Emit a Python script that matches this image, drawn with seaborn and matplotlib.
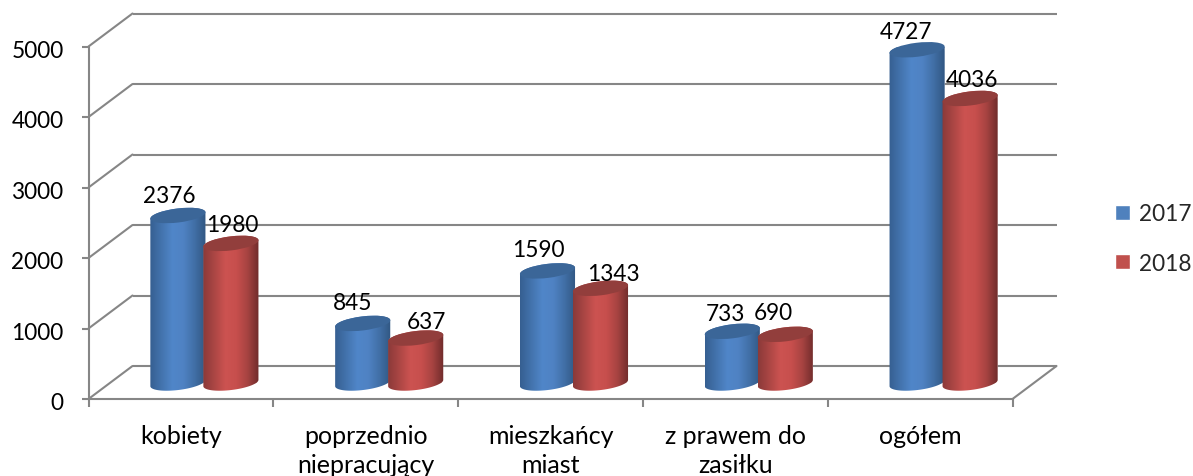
import numpy as np
import pandas as pd
import matplotlib
matplotlib.use("Agg")
import matplotlib.pyplot as plt
import seaborn as sns
from matplotlib.colors import LinearSegmentedColormap
from matplotlib.patches import Ellipse, Polygon
from matplotlib.transforms import Affine2D, IdentityTransform

categories = ["kobiety", "poprzednio\nniepracujący", "mieszkańcy\nmiast", "z prawem do\nzasiłku", "ogółem"]
years = ["2017", "2018"]
values_2017 = [2376, 845, 1590, 733, 4727]
values_2018 = [1980, 637, 1343, 690, 4036]
y_ticks = [0, 1000, 2000, 3000, 4000, 5000]

# layout only (pixels)
label_nudge_2017 = [(-9, 20), (-10, 21), (-9, 21), (-7, 18), (-11, 18)]
label_nudge_2018 = [(1, 19), (11, 17), (13, 15), (-12, 22), (2, 19)]

W, H = 1193, 477
GREY = "#868686"
FS = 16.3
LW = 1.5
sns.set_style("white")
plt.rcParams["font.family"] = ["Lato", "DejaVu Sans"]

df = pd.DataFrame({
    "cat": categories * 2,
    "year": [years[0]] * 5 + [years[1]] * 5,
    "value": values_2017 + values_2018,
})

fig = plt.figure(figsize=(W / 100, H / 100), dpi=100)
ax = fig.add_axes([88.5 / W, (H - 400) / H, 924 / W, 352.5 / H])
sns.barplot(data=df, x="cat", y="value", hue="year", ax=ax, width=0.5736, saturation=1,
            palette=["#4f81bd", "#c0504d"], errorbar=None, zorder=3)
ax.set_xlim(-0.5, 4.5)
ax.set_ylim(0, 5000)
ax.set_autoscale_on(False)
ax.set_xlabel("")
ax.set_ylabel("")
ax.patch.set_alpha(0)

# axes
for s in ("top", "right"):
    ax.spines[s].set_visible(False)
for s in ("left", "bottom"):
    ax.spines[s].set_color(GREY)
    ax.spines[s].set_linewidth(LW)
ax.set_yticks(y_ticks)
ax.set_xticks(np.arange(-0.5, 5, 1))
ax.set_xticklabels([])
ax.set_xticks(np.arange(5), labels=categories, minor=True)
ax.tick_params(axis="y", left=True, length=5, width=LW, color=GREY, pad=13, labelsize=FS, labelcolor="black")
ax.tick_params(axis="x", which="major", bottom=True, length=5.5, width=LW, color=GREY)
ax.tick_params(axis="x", which="minor", bottom=False, length=0, pad=18, labelsize=18, labelcolor="black")
for t in ax.get_xticklabels(minor=True):
    t.set_linespacing(1.3)
for t in ax.get_yticklabels():
    t.set_transform(t.get_transform() + Affine2D().translate(0, -2))

# back wall and floor
DX, DY = 44, 33
back = ax.transData + Affine2D().translate(DX, DY)
ax.hlines(y_ticks, -0.5, 4.5, colors=GREY, lw=LW, transform=back, clip_on=False, zorder=1)
for yv in y_ticks:
    p = ax.transData.transform((-0.5, yv))
    ax.plot([p[0], p[0] + DX], [p[1], p[1] + DY], color=GREY, lw=LW,
            transform=IdentityTransform(), clip_on=False, zorder=1)
p = ax.transData.transform((4.5, 0))
ax.plot([p[0], p[0] + DX], [p[1], p[1] + DY], color=GREY, lw=LW,
        transform=IdentityTransform(), clip_on=False, zorder=1)

# cylinders
SX, SY = 23.5, 16
EW, EH, TILT = 55.5, 14, 7
shift = ax.transData + Affine2D().translate(SX, SY)
side_cmaps = [
    LinearSegmentedColormap.from_list("b", ["#365f91", "#4373ad", "#5086c9", "#4f82c3", "#416fa6", "#315782"]),
    LinearSegmentedColormap.from_list("r", ["#8b3a39", "#ab4644", "#cc5351", "#c74f4d", "#a64341", "#6f2c2b"]),
]
cap_colors = ["#3b6698", "#923e3c"]
rad = np.deg2rad(TILT)


def ell(cx, cy, t):
    a, b = EW / 2, EH / 2
    return np.c_[cx + a * np.cos(t) * np.cos(rad) - b * np.sin(t) * np.sin(rad),
                 cy + a * np.cos(t) * np.sin(rad) + b * np.sin(t) * np.cos(rad)]


for i, cont in enumerate(ax.containers):
    nudges = [label_nudge_2017, label_nudge_2018][i]
    for j, rect in enumerate(cont):
        xc = rect.get_x() + rect.get_width() / 2
        val = rect.get_height()
        cx, base_y = shift.transform((xc, 0))
        _, top_y = shift.transform((xc, val))
        z = 3 + i
        outline = np.vstack([ell(cx, base_y, np.linspace(np.pi, 2 * np.pi, 60)),
                             ell(cx, top_y, np.linspace(0, np.pi, 60))])
        clip = Polygon(outline, closed=True, transform=IdentityTransform())
        rect.set_transform(shift)
        rect.set_zorder(z)
        rect.set_clip_path(clip)
        im = ax.imshow(np.linspace(0, 1, 128)[None, :], cmap=side_cmaps[i], aspect="auto", origin="lower",
                       extent=(cx - EW / 2, cx + EW / 2, base_y - 12, top_y + 12),
                       transform=IdentityTransform(), zorder=z + 0.1, interpolation="bilinear")
        im.set_clip_path(clip)
        ax.add_patch(Ellipse((cx, top_y), EW, EH, angle=TILT, facecolor=cap_colors[i], edgecolor="none",
                             transform=IdentityTransform(), clip_on=False, zorder=z + 0.2))
        ax.annotate(f"{val:.0f}", xy=(xc, val), xycoords=shift,
                    xytext=(nudges[j][0] * 0.72, nudges[j][1] * 0.72), textcoords="offset points",
                    ha="center", va="center", fontsize=FS, color="black", zorder=10, annotation_clip=False)

ax.set_xlim(-0.5, 4.5)
ax.set_ylim(0, 5000)

handles, labels = ax.get_legend_handles_labels()
ax.legend(handles, labels, loc="center left", bbox_to_anchor=(1106 / W, (H - 239.5) / H),
          bbox_transform=fig.transFigure, frameon=False, fontsize=FS, handlelength=0.66, handleheight=0.66,
          handletextpad=0.4, labelspacing=1.25, borderaxespad=0, borderpad=0.4)

fig.savefig("out.png", dpi=100)
